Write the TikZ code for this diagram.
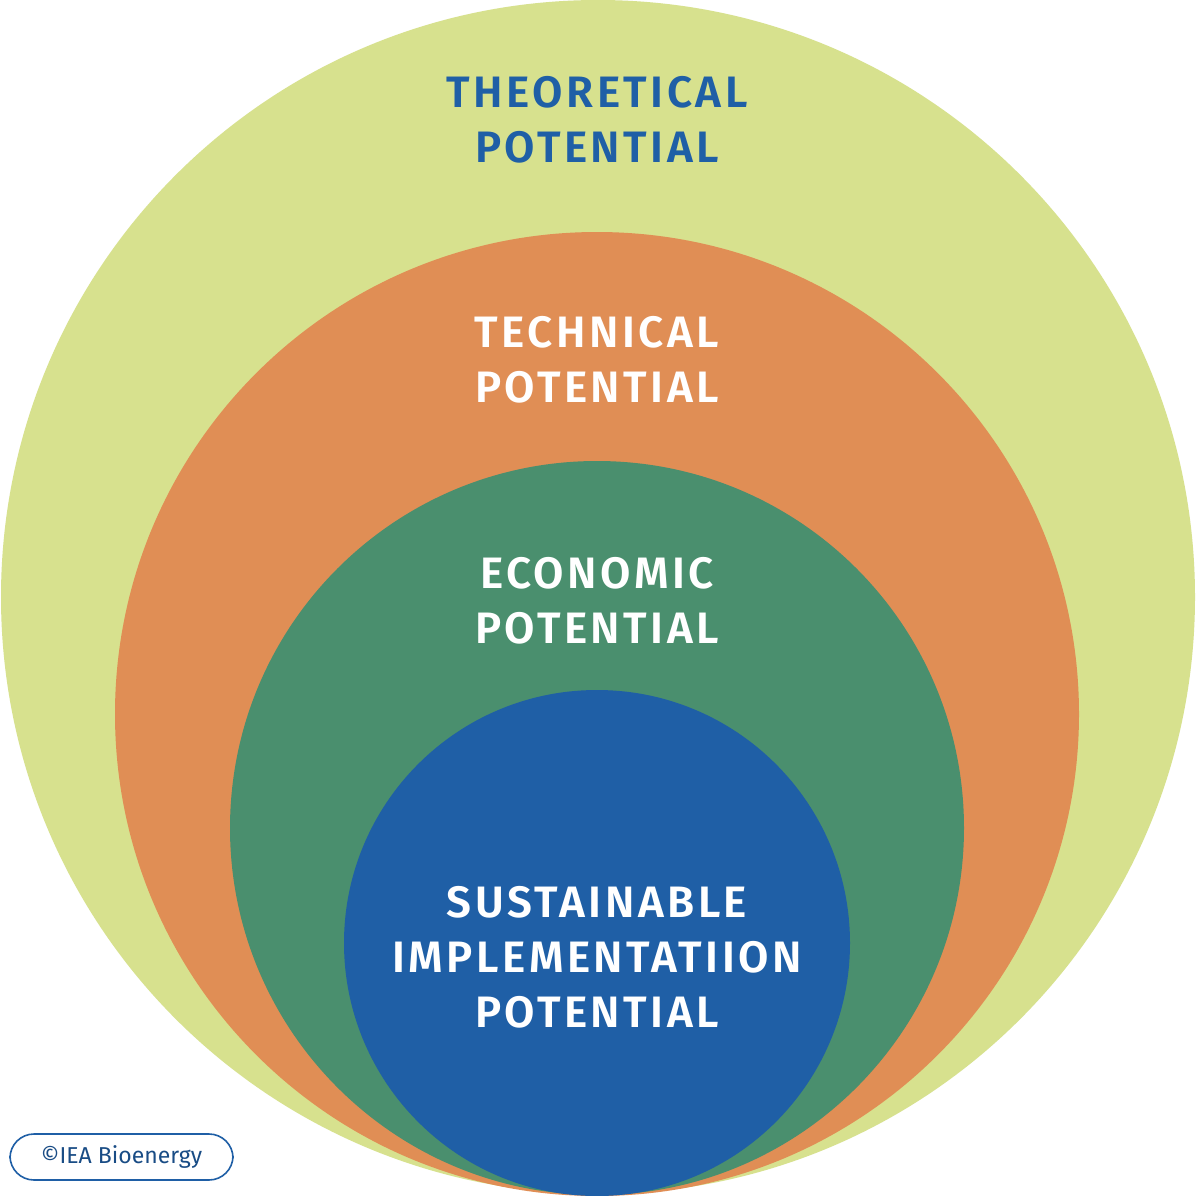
\documentclass[tikz,border=0pt]{standalone}
\usepackage{fontspec}
\setmainfont{Fira Sans}
\newfontfamily\lab[LetterSpace=8]{Fira Sans SemiBold}
\definecolor{cA}{HTML}{D7E18E}
\definecolor{cB}{HTML}{E08E55}
\definecolor{cC}{HTML}{4A8F6E}
\definecolor{cD}{HTML}{1F5FA6}
\begin{document}
\begin{tikzpicture}[x=0.5pt,y=-0.5pt,
  lbl/.style={font=\lab\fontsize{22}{27.5}\selectfont,align=center,text=white}]
\useasboundingbox (0,0) rectangle (1200,1195);
\fill[white] (0,0) rectangle (1200,1195);
\fill[cA] (598,597) circle[radius=597*0.5pt];
\fill[cB] (597,714) circle[radius=482*0.5pt];
\fill[cC] (597,828) circle[radius=367*0.5pt];
\fill[cD] (597,943) circle[radius=253*0.5pt];
\node[lbl,text=cD] (t) at (597,120) {THEORETICAL\\POTENTIAL};
\node[lbl] (te) at (597,360) {TECHNICAL\\POTENTIAL};
\node[lbl] (e) at (597,601) {ECONOMIC\\POTENTIAL};
\node[lbl] (s) at (597,957) {SUSTAINABLE\\IMPLEMENTATIION\\POTENTIAL};
\node[draw=cD,line width=0.8pt,rounded corners=12pt,fill=white,minimum width=223*0.5pt,minimum height=46*0.5pt,inner sep=0pt,text=cD!80!black,font=\fontsize{11.5}{12}\selectfont] (logo) at (121.5,1157) {©IEA Bioenergy};
\end{tikzpicture}
\end{document}
